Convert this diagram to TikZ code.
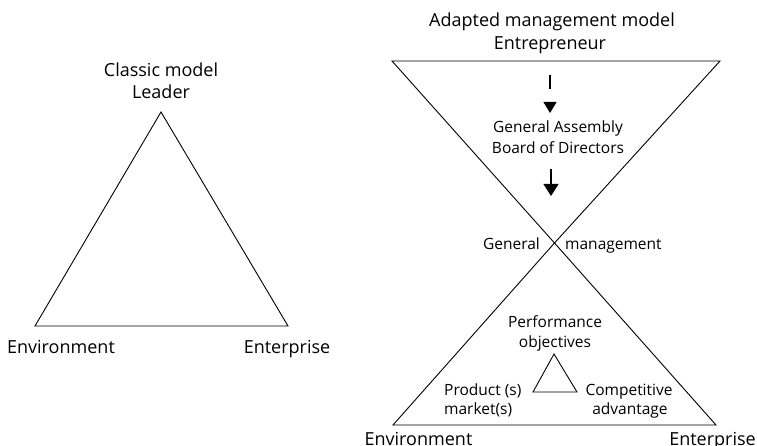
\documentclass[tikz,border=0pt]{standalone}
\usepackage{fontspec}
\setmainfont{Open Sans}
\usetikzlibrary{arrows.meta}
\begin{document}
\begin{tikzpicture}[x=1pt,y=-1pt,
  big/.style={font=\fontsize{18}{22}\selectfont, anchor=base, inner sep=0pt},
  small/.style={font=\fontsize{15.5}{20}\selectfont, anchor=base, inner sep=0pt},
  edge/.style={line width=0.9pt, line join=miter},
  flow/.style={line width=1.1pt}]
\useasboundingbox (0,0) rectangle (757,446);

% classic model: one triangle
\coordinate (L1) at (161,112);
\coordinate (L2) at (35,326);
\coordinate (L3) at (288,326);
\draw[edge] (L1) -- (L2) -- (L3) -- cycle;
\node[big] (ctitle) at (161,77) {Classic model};
\node[big] (leader) at (161,99) {Leader};
\node[big] (cenv) at (61,353) {Environment};
\node[big] (cent) at (287,353) {Enterprise};

% adapted model: hourglass
\coordinate (T1) at (392,61);
\coordinate (T2) at (720,61);
\coordinate (X) at (554.5,243);
\coordinate (B1) at (393,425);
\coordinate (B2) at (716,425);
\draw[edge] (T1) -- (T2) -- (X) -- cycle;
\draw[edge] (X) -- (B2) -- (B1) -- cycle;

\node[big] (atitle) at (552,27) {Adapted management model};
\node[big] (entre) at (550,50) {Entrepreneur};

% flow from the entrepreneur down to general management
\coordinate (A1) at (550,75);
\coordinate (A2) at (550,113);
\draw[flow, dash pattern=on 14pt off 40pt, -{Triangle[length=11pt,width=13pt]}] (A1) -- (A2);
\node[small] (ga) at (558,133) {General Assembly};
\node[small] (bod) at (558,154) {Board of Directors};
\coordinate (A3) at (551,169);
\coordinate (A4) at (551,196);
\draw[flow, -{Triangle[length=12pt,width=15pt]}] (A3) -- (A4);

\node[small, anchor=base east] (gen) at (540,250) {General};
\node[small, anchor=base west] (mgmt) at (565,250) {management};

% inner triangle of the lower half
\node[small] (perf) at (555,327) {Performance};
\node[small] (obj) at (555,347) {objectives};
\coordinate (S1) at (554,354);
\coordinate (S2) at (533,392);
\coordinate (S3) at (577,392);
\draw[edge] (S1) -- (S2) -- (S3) -- cycle;
\node[small, anchor=base west] (prod) at (444,395) {Product (s)};
\node[small, anchor=base west] (mkt) at (444,414) {market(s)};
\node[small] (comp) at (629,395) {Competitive};
\node[small] (adv) at (630,414) {advantage};

\node[big] (aenv) at (418.5,445) {Environment};
\node[big] (aent) at (712.5,445) {Enterprise};
\end{tikzpicture}
\end{document}
